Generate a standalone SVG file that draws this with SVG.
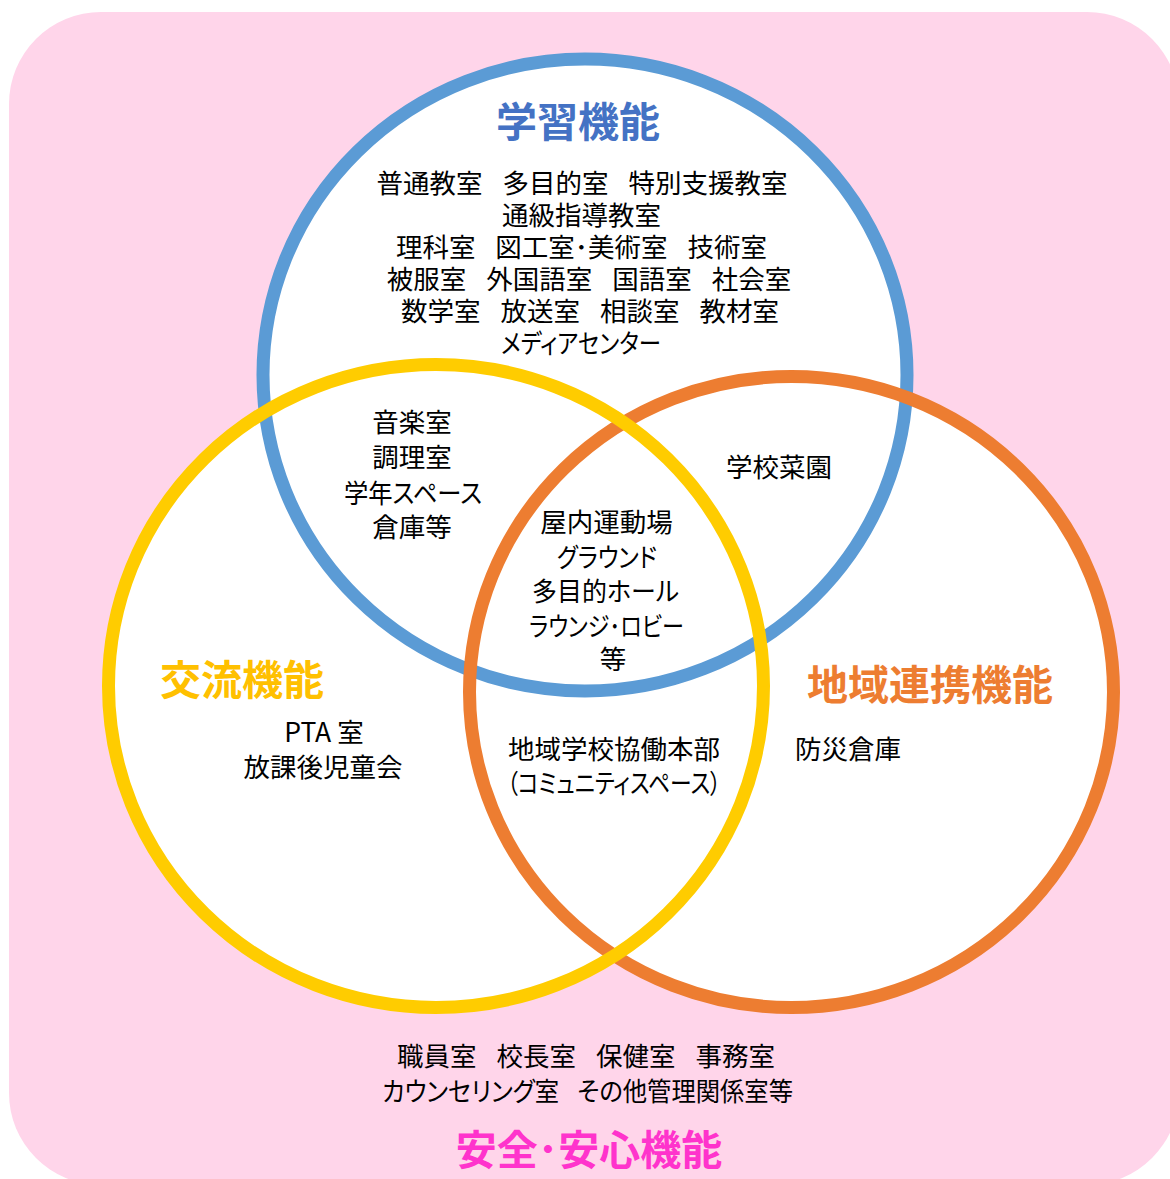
<svg xmlns="http://www.w3.org/2000/svg" width="1170" height="1179" viewBox="0 0 1170 1179">
<style>
  .t { font-family: "Noto Sans CJK JP", "Noto Sans", sans-serif; font-size: 26.5px; fill: #000000; text-anchor: middle; font-feature-settings: "palt"; word-spacing: 14px; }
  .n { word-spacing: 0; }
  .h { font-family: "Noto Sans CJK JP", "Noto Sans", sans-serif; font-size: 41px; font-weight: 700; text-anchor: middle; font-feature-settings: "palt"; }
  .fill { fill: #FFFFFF; stroke: none; }
  .ring { fill: none; stroke-width: 13; }
</style>
<rect id="background" x="9" y="12" width="1170" height="1173" rx="92" ry="92" fill="#FFD5EA"/>
<g id="circle-fills">
  <ellipse class="fill" cx="585" cy="375" rx="322" ry="316"/>
  <ellipse class="fill" cx="791.5" cy="692" rx="322" ry="315.5"/>
  <ellipse class="fill" cx="436" cy="686" rx="327.5" ry="321.5"/>
</g>
<g id="learning">
  <ellipse class="ring" cx="585" cy="375" rx="322" ry="316" stroke="#5B9BD5"/>
</g>
<g id="community">
  <ellipse class="ring" cx="791.5" cy="692" rx="322" ry="315.5" stroke="#ED7D31"/>
</g>
<g id="exchange">
  <ellipse class="ring" cx="436" cy="686" rx="327.5" ry="321.5" stroke="#FFCC00"/>
</g>
<g id="learning-text">
  <text class="h" x="578" y="137" fill="#4472C4">学習機能</text>
  <text class="t" x="582" y="193">普通教室 多目的室 特別支援教室</text>
  <text class="t" x="581.5" y="225">通級指導教室</text>
  <text class="t" x="581.5" y="257">理科室 図工室･美術室 技術室</text>
  <text class="t" x="589" y="289">被服室 外国語室 国語室 社会室</text>
  <text class="t" x="590" y="321">数学室 放送室 相談室 教材室</text>
  <text class="t" x="581" y="353" textLength="160" lengthAdjust="spacingAndGlyphs">メディアセンター</text>
</g>
<g id="learning-exchange-text">
  <text class="t" x="412" y="432">音楽室</text>
  <text class="t" x="412" y="467">調理室</text>
  <text class="t" x="413" y="503" textLength="138" lengthAdjust="spacingAndGlyphs">学年スペース</text>
  <text class="t" x="412" y="537">倉庫等</text>
</g>
<g id="learning-community-text">
  <text class="t" x="779" y="477">学校菜園</text>
</g>
<g id="all-three-text">
  <text class="t" x="606.5" y="532">屋内運動場</text>
  <text class="t" x="607" y="567" textLength="100" lengthAdjust="spacingAndGlyphs">グラウンド</text>
  <text class="t" x="605.5" y="601" textLength="147" lengthAdjust="spacingAndGlyphs">多目的ホール</text>
  <text class="t" x="606.5" y="636" textLength="155" lengthAdjust="spacingAndGlyphs">ラウンジ･ロビー</text>
  <text class="t" x="613" y="669">等</text>
</g>
<g id="exchange-text">
  <text class="h" x="242" y="695" fill="#FFC000">交流機能</text>
  <text class="t n" x="324" y="742">PTA 室</text>
  <text class="t" x="323" y="777">放課後児童会</text>
</g>
<g id="exchange-community-text">
  <text class="t" x="614" y="759">地域学校協働本部</text>
  <text class="t" x="614" y="793" textLength="214" lengthAdjust="spacingAndGlyphs">（コミュニティスペース）</text>
</g>
<g id="community-text">
  <text class="h" x="930" y="700" fill="#ED7D31">地域連携機能</text>
  <text class="t" x="848" y="759">防災倉庫</text>
</g>
<g id="safety-text">
  <text class="t" x="586" y="1066">職員室 校長室 保健室 事務室</text>
  <text class="t" x="587.5" y="1101" textLength="411" lengthAdjust="spacingAndGlyphs">カウンセリング室 その他管理関係室等</text>
  <text class="h" x="589" y="1165" fill="#FF33CC">安全･安心機能</text>
</g>
</svg>
